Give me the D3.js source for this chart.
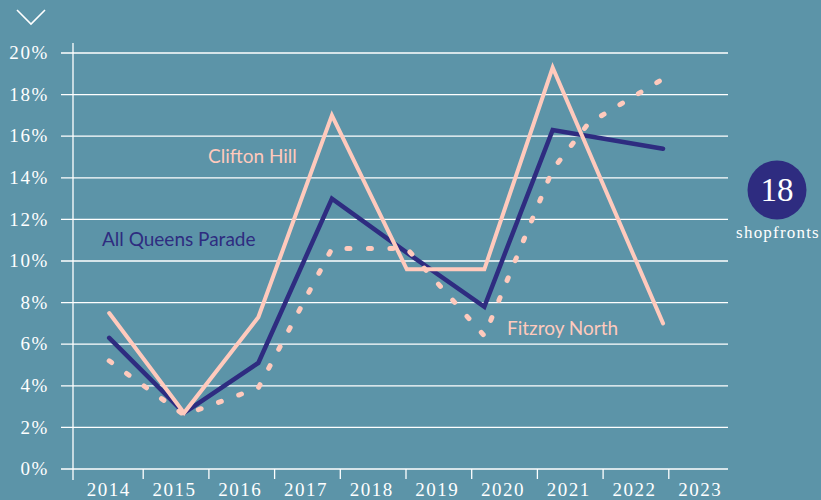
<!DOCTYPE html>
<html>
<head>
<meta charset="utf-8">
<script src="https://cdn.jsdelivr.net/npm/d3@7"></script>
<style>
  html, body { margin: 0; padding: 0; background: #5c94a8; }
  svg { display: block; }
</style>
</head>
<body>
<svg id="chart" width="821" height="500"></svg>
<script>
// ---- data ----
const years = [2014, 2015, 2016, 2017, 2018, 2019, 2020, 2021, 2022, 2023];
const yTicks = [0, 2, 4, 6, 8, 10, 12, 14, 16, 18, 20];
// positions of the series points, in year units along the axis
const pointYears = [2014.49, 2015.63, 2016.76, 2017.88, 2019.02, 2020.20, 2021.24, 2022.92];
const cliftonHill = [7.5, 2.7, 7.3, 17.0, 9.6, 9.6, 19.3, 7.0];
const allQueensParade = [6.3, 2.7, 5.1, 13.0, 10.4, 7.8, 16.3, 15.4];
const fitzroyNorthYears = [2014.49, 2015.63, 2016.76, 2017.88, 2019.02, 2020.20, 2021.24, 2021.78, 2022.89];
const fitzroyNorth = [5.2, 2.6, 3.9, 10.6, 10.6, 6.4, 14.4, 16.6, 18.7];
const seriesLabels = ["Clifton Hill", "All Queens Parade", "Fitzroy North"];
const badgeValue = "18";
const badgeLabel = "shopfronts";

// ---- style ----
const bg = "#5c94a8";
const pink = "#ffcabd";
const navy = "#2e2c80";
const serif = "'Liberation Serif', 'DejaVu Serif', serif";
const sans = "Lato, 'Open Sans', sans-serif";

const svg = d3.select("#chart");
svg.append("rect").attr("width", 821).attr("height", 500).attr("fill", bg);

const x = d3.scaleLinear().domain([2014, 2024]).range([77, 734]);
const y = d3.scaleLinear().domain([0, 20]).range([469, 53]);
const axisX = 73;

// chevron
svg.append("path")
  .attr("d", d3.line()([[17, 10], [31, 24], [45, 10]]))
  .attr("fill", "none").attr("stroke", "#fff").attr("stroke-width", 1.6);

// gridlines + y labels
const yAxis = d3.axisLeft(y).tickValues(yTicks).tickSize(0).tickFormat(d => d + "%");
const yg = svg.append("g").attr("transform", `translate(${axisX - 24},0)`).call(yAxis);
yg.select(".domain").remove();
yg.selectAll("text").attr("fill", "#fff").attr("font-family", serif)
  .attr("font-size", 19).attr("letter-spacing", 1.6).attr("x", 0).attr("dy", "0.3em");

svg.append("g").selectAll("line").data(yTicks).join("line")
  .attr("x1", 61).attr("x2", 728)
  .attr("y1", d => y(d)).attr("y2", d => y(d))
  .attr("stroke", "#fff").attr("stroke-width", 1.3);

// vertical axis
svg.append("line").attr("x1", axisX).attr("x2", axisX).attr("y1", 43).attr("y2", 480)
  .attr("stroke", "#fff").attr("stroke-width", 1.3);

// x ticks and labels
const xAxis = d3.axisBottom(x).tickValues(years.slice(1)).tickSize(10).tickFormat("");
const xg = svg.append("g").attr("transform", `translate(0,${y(0)})`).call(xAxis);
xg.select(".domain").remove();
xg.selectAll("line").attr("stroke", "#fff").attr("stroke-width", 1.3);

svg.append("g").selectAll("text").data(years).join("text")
  .attr("x", d => x(d + 0.5) - 1).attr("y", 496)
  .attr("text-anchor", "middle").attr("fill", "#fff")
  .attr("font-family", serif).attr("font-size", 19).attr("letter-spacing", 1.5)
  .text(d => d);

// lines
const line = d3.line().x(d => x(d[0])).y(d => y(d[1]));
svg.append("path").datum(pointYears.map((p, i) => [p, allQueensParade[i]]))
  .attr("d", line).attr("fill", "none").attr("stroke", navy).attr("stroke-width", 4.5)
  .attr("stroke-linejoin", "miter").attr("stroke-linecap", "round");
svg.append("path").datum(pointYears.map((p, i) => [p, cliftonHill[i]]))
  .attr("d", line).attr("fill", "none").attr("stroke", pink).attr("stroke-width", 4)
  .attr("stroke-linejoin", "miter").attr("stroke-linecap", "round");
svg.append("path").datum(fitzroyNorthYears.map((p, i) => [p, fitzroyNorth[i]]))
  .attr("d", line).attr("fill", "none").attr("stroke", pink).attr("stroke-width", 5)
  .attr("stroke-dasharray", "3 18.5").attr("stroke-linecap", "round");

// series labels
svg.append("text").attr("x", 208).attr("y", 163).attr("fill", pink)
  .attr("font-family", sans).attr("font-size", 19).text(seriesLabels[0]);
svg.append("text").attr("x", 102).attr("y", 246).attr("fill", navy)
  .attr("font-family", sans).attr("font-size", 19).text(seriesLabels[1]);
svg.append("text").attr("x", 507).attr("y", 335).attr("fill", pink)
  .attr("font-family", sans).attr("font-size", 19).text(seriesLabels[2]);

// badge
svg.append("circle").attr("cx", 777).attr("cy", 190).attr("r", 29.5).attr("fill", navy);
svg.append("text").attr("x", 777).attr("y", 201).attr("text-anchor", "middle")
  .attr("fill", "#fff").attr("font-family", serif).attr("font-size", 33).text(badgeValue);
svg.append("text").attr("x", 778).attr("y", 238).attr("text-anchor", "middle")
  .attr("fill", "#fff").attr("font-family", serif).attr("font-size", 17)
  .attr("letter-spacing", 1.2).text(badgeLabel);
</script>
</body>
</html>
